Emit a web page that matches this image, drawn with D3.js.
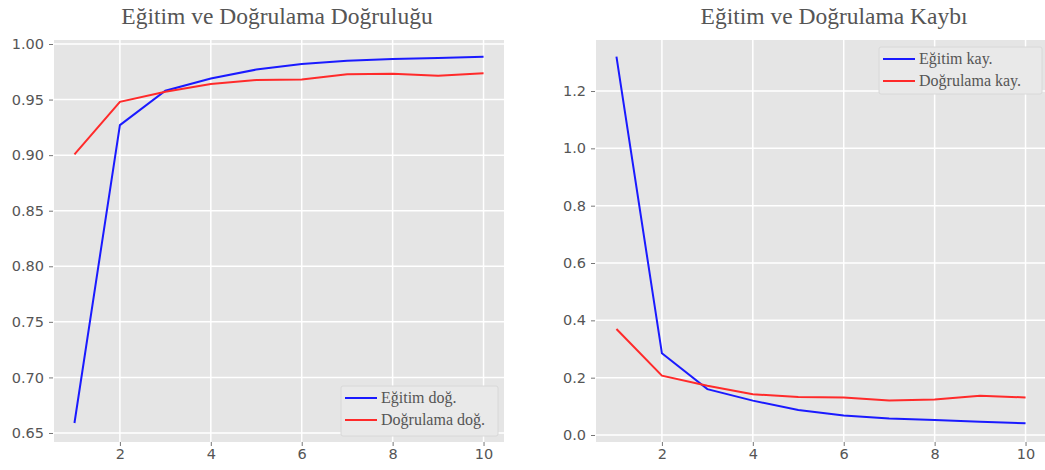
<!DOCTYPE html>
<html>
<head>
<meta charset="utf-8">
<script src="https://cdn.jsdelivr.net/npm/d3@7"></script>
<style>
  body { margin: 0; background: #fff; }
  svg { display: block; }
</style>
</head>
<body>
<div id="chart"></div>
<script>
// epochs
const epochs = [1, 2, 3, 4, 5, 6, 7, 8, 9, 10];

// accuracy
const trainAcc = [0.659, 0.927, 0.958, 0.969, 0.977, 0.982, 0.985, 0.9865, 0.9873, 0.9885];
const valAcc = [0.9007, 0.948, 0.957, 0.964, 0.9676, 0.968, 0.9727, 0.9733, 0.9715, 0.9736];

// loss
const trainLoss = [1.32, 0.285, 0.16, 0.12, 0.087, 0.068, 0.058, 0.052, 0.046, 0.041];
const valLoss = [0.37, 0.207, 0.172, 0.142, 0.133, 0.131, 0.12, 0.124, 0.137, 0.131];

const xTicks = [2, 4, 6, 8, 10];
const accTicks = [0.65, 0.70, 0.75, 0.80, 0.85, 0.90, 0.95, 1.00];
const lossTicks = [0.0, 0.2, 0.4, 0.6, 0.8, 1.0, 1.2];

const W = 1045, H = 470;
const BG = "#e5e5e5", BLUE = "#1a1aff", RED = "#ff2a2a", TXT = "#555";

const svg = d3.select("#chart").append("svg")
  .attr("width", W).attr("height", H);

function drawPanel(opt) {
  const x = d3.scaleLinear().domain([0.55, 10.45]).range([opt.left, opt.right]);
  const y = d3.scaleLinear().domain(opt.yDomain).range([opt.bottom, opt.top]);

  const g = svg.append("g");

  g.append("rect")
    .attr("x", opt.left).attr("y", opt.top)
    .attr("width", opt.right - opt.left).attr("height", opt.bottom - opt.top)
    .attr("fill", BG);

  // grid
  g.selectAll(".gx").data(xTicks).enter().append("line")
    .attr("x1", d => x(d)).attr("x2", d => x(d))
    .attr("y1", opt.top).attr("y2", opt.bottom)
    .attr("stroke", "#fff").attr("stroke-width", 1.5);
  g.selectAll(".gy").data(opt.yTicks).enter().append("line")
    .attr("x1", opt.left).attr("x2", opt.right)
    .attr("y1", d => y(d)).attr("y2", d => y(d))
    .attr("stroke", "#fff").attr("stroke-width", 1.5);

  // axes
  const xAxis = g.append("g")
    .attr("transform", "translate(0," + opt.bottom + ")")
    .call(d3.axisBottom(x).tickValues(xTicks).tickSize(4).tickPadding(3).tickFormat(d3.format("d")));
  const yAxis = g.append("g")
    .attr("transform", "translate(" + (opt.left - 1) + ",0)")
    .call(d3.axisLeft(y).tickValues(opt.yTicks).tickSize(4).tickPadding(5).tickFormat(d3.format(opt.fmt)));
  [xAxis, yAxis].forEach(a => {
    a.select(".domain").remove();
    a.selectAll(".tick line").attr("stroke", "#777");
    a.selectAll(".tick text")
      .attr("fill", TXT)
      .style("font-family", "DejaVu Sans")
      .style("font-size", "14.5px");
  });

  // lines
  const line = d3.line().x((d, i) => x(epochs[i])).y(d => y(d));
  g.append("path").datum(opt.series[0])
    .attr("d", line).attr("fill", "none")
    .attr("stroke", BLUE).attr("stroke-width", 2);
  g.append("path").datum(opt.series[1])
    .attr("d", line).attr("fill", "none")
    .attr("stroke", RED).attr("stroke-width", 2);

  // title
  g.append("text")
    .attr("x", opt.titleX).attr("y", 24)
    .attr("text-anchor", "middle")
    .attr("fill", TXT)
    .style("font-family", "Liberation Serif")
    .style("font-size", "23.5px")
    .text(opt.title);

  // legend
  const L = opt.legend;
  const lg = g.append("g").attr("transform", "translate(" + L.x + "," + L.y + ")");
  lg.append("rect")
    .attr("width", L.w).attr("height", L.h).attr("rx", 2)
    .attr("fill", "#e9e9e9").attr("stroke", "#d8d8d8");
  [BLUE, RED].forEach((c, i) => {
    lg.append("line")
      .attr("x1", 4).attr("x2", 36)
      .attr("y1", 12 + i * 22).attr("y2", 12 + i * 22)
      .attr("stroke", c).attr("stroke-width", 2);
    lg.append("text")
      .attr("x", 40).attr("y", 12 + i * 22 + 5)
      .attr("fill", TXT)
      .style("font-family", "Liberation Serif")
      .style("font-size", "16px")
      .text(L.labels[i]);
  });
}

drawPanel({
  left: 54, right: 504, top: 40, bottom: 442,
  yDomain: [0.6419, 1.0036], yTicks: accTicks, fmt: ".2f",
  series: [trainAcc, valAcc],
  title: "Eğitim ve Doğrulama Doğruluğu", titleX: 277,
  legend: { x: 341, y: 386, w: 157, h: 50, labels: ["Eğitim doğ.", "Doğrulama doğ."] }
});

drawPanel({
  left: 596, right: 1046, top: 40, bottom: 442,
  yDomain: [-0.0244, 1.378], yTicks: lossTicks, fmt: ".1f",
  series: [trainLoss, valLoss],
  title: "Eğitim ve Doğrulama Kaybı", titleX: 834,
  legend: { x: 879, y: 47, w: 163, h: 47, labels: ["Eğitim kay.", "Doğrulama kay."] }
});
</script>
</body>
</html>
